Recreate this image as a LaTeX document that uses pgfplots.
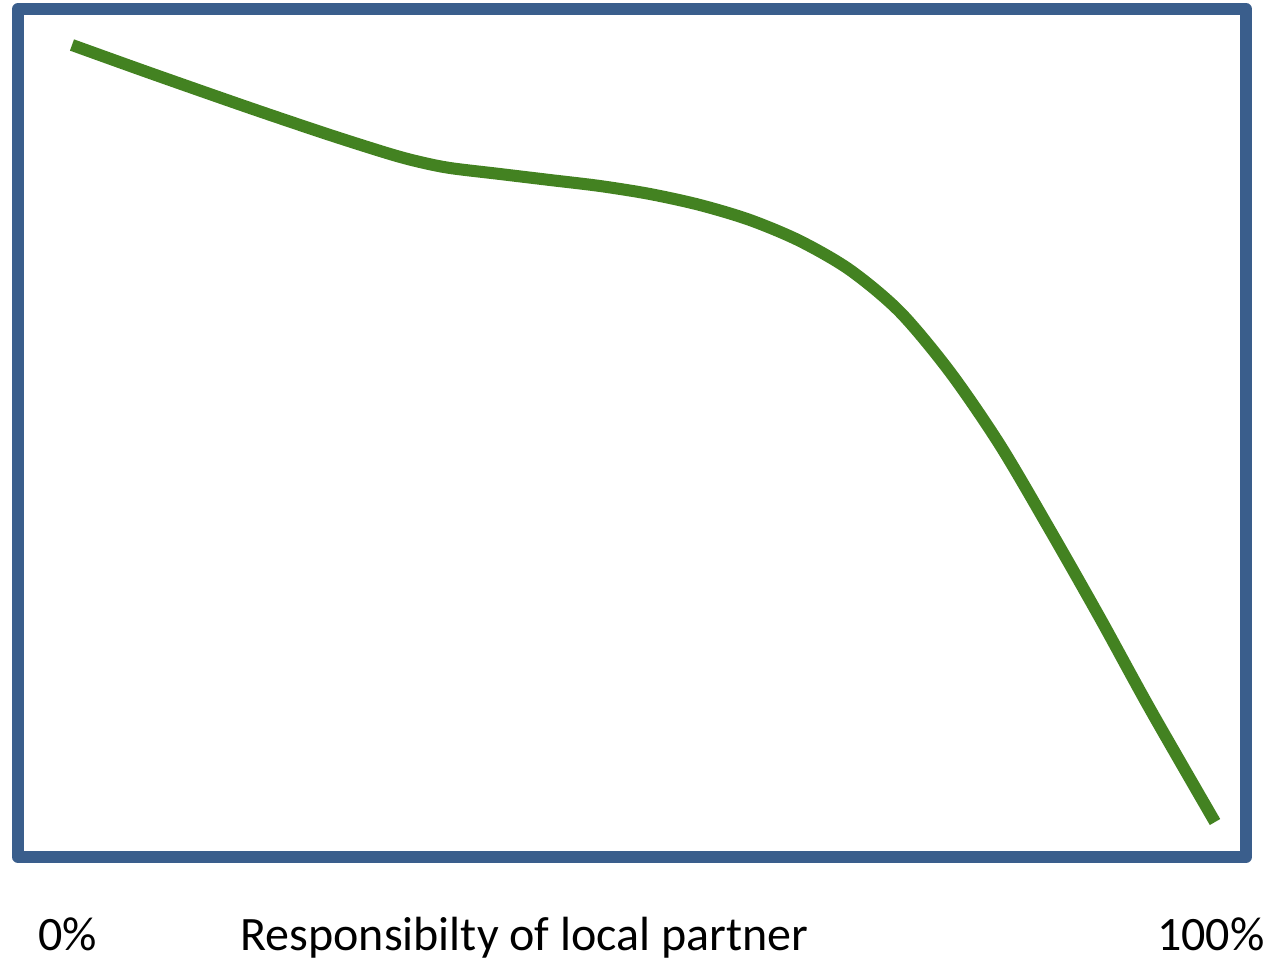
\documentclass[border=0pt]{standalone}
\usepackage{pgfplots}
\pgfplotsset{compat=1.18}
\usepackage{fontspec}
\setmainfont{Carlito}

\definecolor{frameblue}{RGB}{58,94,140}
\definecolor{linegreen}{RGB}{67,130,33}

% curve, in pixels of the 1277x960 picture
\pgfplotstableread{
x     y
72    45
150   73
250   108
330   135
390   154
420   162
450   168
500   174
550   180
600   186
650   194
700   205
750   220
800   241
850   270
900   312
950   372
1000  445
1050  530
1100  618
1150  709
1215  822
}\curve

\begin{document}
\begin{tikzpicture}
\begin{axis}[
    width=614pt, height=424pt,
    scale only axis,
    xmin=18, xmax=1246,
    ymin=9, ymax=857,
    y dir=reverse,
    xtick=\empty, ytick=\empty,
    axis line style={draw=none},
    axis background/.style={draw=frameblue, line width=6pt, line join=round},
    clip=false,
]
\addplot[linegreen, line width=6pt, smooth, tension=0.5] table {\curve};

\coordinate (tl) at (axis cs:0,0);
\coordinate (br) at (axis cs:1277,960);
\node[anchor=base west, inner sep=0pt, font=\fontsize{24}{28}\selectfont] at (axis cs:38,950) {0\%};
\node[anchor=base west, inner sep=0pt, font=\fontsize{24}{28}\selectfont] at (axis cs:240,950) {Responsibilty of local partner};
\node[anchor=base east, inner sep=0pt, font=\fontsize{24}{28}\selectfont] at (axis cs:1265,950) {100\%};
\end{axis}
\pgfresetboundingbox
\path[use as bounding box] (tl) rectangle (br);
\end{tikzpicture}
\end{document}
